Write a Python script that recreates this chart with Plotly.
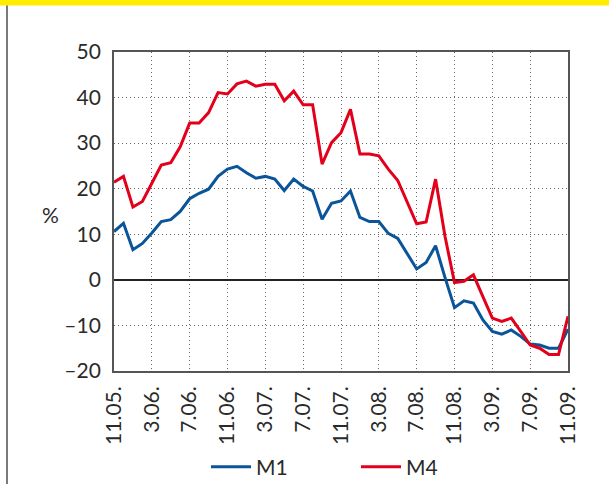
import plotly.graph_objects as go

tick_labels = ["11.05.", "3.06.", "7.06.", "11.06.", "3.07.", "7.07.", "11.07.",
               "3.08.", "7.08.", "11.08.", "3.09.", "7.09.", "11.09."]
months = list(range(49))

m1 = [10.6, 12.4, 6.6, 8.0, 10.3, 12.8, 13.2, 15.0, 17.8, 19.0, 19.9, 22.7, 24.3,
      24.9, 23.5, 22.3, 22.7, 22.1, 19.6, 22.1, 20.5, 19.5, 13.3, 16.8, 17.3,
      19.5, 13.7, 12.8, 12.8, 10.2, 9.1, 5.8, 2.4, 3.8, 7.5, 0.5, -6.1,
      -4.6, -5.1, -8.8, -11.3, -11.9, -11.0, -12.4, -14.1, -14.3, -15.0, -15.0, -10.8]
m4 = [21.4, 22.7, 16.0, 17.2, 21.2, 25.2, 25.7, 29.2, 34.4, 34.4, 36.7, 41.1, 40.8,
      43.0, 43.6, 42.5, 42.9, 42.9, 39.3, 41.4, 38.4, 38.4, 25.4, 30.1, 32.3,
      37.4, 27.6, 27.6, 27.2, 24.3, 21.8, 17.0, 12.3, 12.7, 22.1, 9.5, -0.6,
      -0.3, 1.1, -3.7, -8.4, -9.1, -8.4, -11.3, -14.3, -15.0, -16.4, -16.4, -8.0]
y_ticks = [-20, -10, 0, 10, 20, 30, 40, 50]
y_tick_text = ["–20", "–10", "0", "10", "20", "30", "40", "50"]

FONT = "Lato, Open Sans, sans-serif"
TXT = "#2a2a2a"

L, R, T, B = 114, 568, 52, 371
PW, PH = R - L, B - T

def px(x):
    return (x - L) / PW

def py(y):
    return (B - y) / PH

fig = go.Figure()
fig.add_trace(go.Scatter(x=months, y=m1, mode="lines", name="M1",
                         line=dict(color="#0b5499", width=3)))
fig.add_trace(go.Scatter(x=months, y=m4, mode="lines", name="M4",
                         line=dict(color="#e2001a", width=3)))

fig.update_layout(
    width=609, height=484,
    margin=dict(l=L, r=609 - R, t=T, b=484 - B, autoexpand=False),
    paper_bgcolor="white", plot_bgcolor="white",
    font=dict(family=FONT, size=21, color=TXT),
    showlegend=True,
    legend=dict(orientation="h", x=px(356), xanchor="center", y=py(467), yanchor="middle",
                font=dict(size=21, color=TXT), itemwidth=40, tracegroupgap=0,
                entrywidth=95),
)
fig.update_xaxes(range=[0, 48], tickvals=list(range(0, 49, 4)), ticktext=tick_labels,
                 tickangle=-90, showgrid=True, gridcolor="#666", griddash="1px,3px",
                 gridwidth=1, showline=True, mirror=True, linecolor="#555",
                 linewidth=1.8, ticks="", zeroline=False, ticklabelstandoff=5,
                 automargin=False)
fig.update_yaxes(range=[-20, 50], tickvals=y_ticks, ticktext=y_tick_text,
                 showgrid=True, gridcolor="#666", griddash="1px,3px", gridwidth=1,
                 showline=True, mirror=True, linecolor="#555", linewidth=1.8,
                 zeroline=True, zerolinecolor="#222", zerolinewidth=1.5, ticks="",
                 ticklabelstandoff=7, automargin=False)

# yellow header band and left rule
fig.add_shape(type="rect", xref="paper", yref="paper",
              x0=px(0), x1=px(609), y0=py(5.5), y1=py(-2),
              fillcolor="#ffed00", line=dict(width=0), layer="above")
fig.add_shape(type="line", xref="paper", yref="paper",
              x0=px(7), x1=px(7), y0=py(5.5), y1=py(490),
              line=dict(color="#222", width=1.2))

fig.add_annotation(text="%", xref="paper", yref="paper", x=px(40),
                   y=py(214), showarrow=False, font=dict(size=21, color=TXT))

fig.write_html("out.html", config={"displayModeBar": False},
               post_script="document.body.style.margin='0';document.body.style.padding='0';")
